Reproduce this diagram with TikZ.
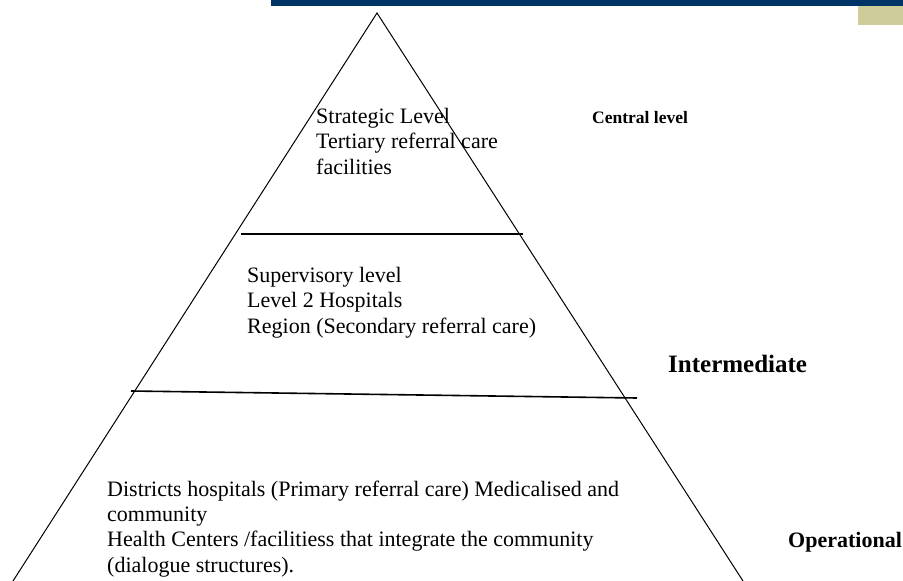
\documentclass[tikz,border=0pt]{standalone}
\usepackage{fontspec}
\setmainfont{Liberation Serif}
\definecolor{barblue}{RGB}{0,51,102}
\definecolor{bartan}{RGB}{206,204,154}
\begin{document}
\begin{tikzpicture}[x=1pt,y=-1pt,
  body/.style={font=\fontsize{22}{25.3}\selectfont, align=left, anchor=base west, inner sep=0pt},
  side/.style={font=\bfseries, anchor=base west, inner sep=0pt},
  edge/.style={draw=black, line width=1pt},
  tier/.style={draw=black, line width=1.6pt}]
\useasboundingbox (0,0) rectangle (903,581);
\clip (0,0) rectangle (903,581);
% header decoration
\fill[barblue] (271,0) rectangle (903,6);
\fill[bartan] (858,6) rectangle (903,25);
% pyramid
\coordinate (apex) at (377,13);
\coordinate (bl) at (13,581);
\coordinate (br) at (743,581);
\draw[edge] (bl) -- (apex) -- (br);
\coordinate (l1a) at (241,234);
\coordinate (l1b) at (523,234);
\draw[tier] (l1a) -- (l1b);
\coordinate (l2a) at (131,391);
\coordinate (l2b) at (637,398);
\draw[tier] (l2a) -- (l2b);
% texts (anchor = baseline of last line)
\node[body] (strat) at (316,174) {Strategic Level\\Tertiary referral care\\facilities};
\node[body] (sup) at (247,333) {Supervisory level\\Level 2 Hospitals\\Region (Secondary referral care)};
\node[body] (ops) at (107,572) {Districts hospitals (Primary referral care) Medicalised and\\community\\Health Centers /facilitiess that integrate the community\\(dialogue structures).};
\node[side, font=\bfseries\fontsize{17.5}{20}\selectfont] (central) at (592,123) {Central level};
\node[side, font=\bfseries\fontsize{25}{28}\selectfont] (inter) at (668,372) {Intermediate};
\node[side, font=\bfseries\fontsize{22}{25}\selectfont] (oper) at (788,547) {Operational};
\end{tikzpicture}
\end{document}
